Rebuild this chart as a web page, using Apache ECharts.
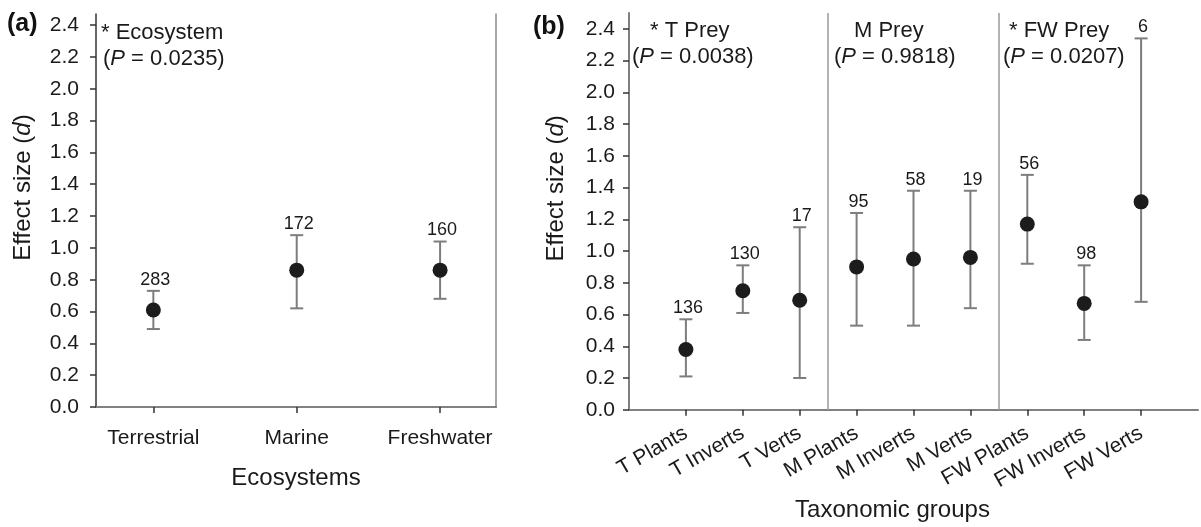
<!DOCTYPE html>
<html>
<head>
<meta charset="utf-8">
<script src="https://cdn.jsdelivr.net/npm/echarts@6/dist/echarts.min.js"></script>
<style>
html,body{margin:0;padding:0;background:#fff;}
#c{width:1201px;height:527px;}
</style>
</head>
<body>
<div id="c"></div>
<script>
// ---- Data ----
const yTicks = [0, 0.2, 0.4, 0.6, 0.8, 1.0, 1.2, 1.4, 1.6, 1.8, 2.0, 2.2, 2.4];

const ecoCats = ['Terrestrial', 'Marine', 'Freshwater'];
const ecoMean = [0.61, 0.86, 0.86];
const ecoLow  = [0.49, 0.62, 0.68];
const ecoHigh = [0.73, 1.08, 1.04];
const ecoN    = [283, 172, 160];

const taxCats = ['T Plants', 'T Inverts', 'T Verts', 'M Plants', 'M Inverts', 'M Verts', 'FW Plants', 'FW Inverts', 'FW Verts'];
const taxMean = [0.38, 0.75, 0.69, 0.90, 0.95, 0.96, 1.17, 0.67, 1.31];
const taxLow  = [0.21, 0.61, 0.20, 0.53, 0.53, 0.64, 0.92, 0.44, 0.68];
const taxHigh = [0.57, 0.91, 1.15, 1.24, 1.38, 1.38, 1.48, 0.91, 2.34];
const taxN    = [136, 130, 17, 95, 58, 19, 56, 98, 6];
const taxDividers = [3.5, 6.5];

// ---- Chart ----
const FONT = '"Liberation Sans", Arial, Helvetica, sans-serif';
const chart = echarts.init(document.getElementById('c'), null, {renderer: 'canvas'});

function pos(arr) { return arr.map((_, i) => i + 1); }

function errRender(params, api) {
  const x = api.value(0), lo = api.value(1), hi = api.value(2), n = api.value(3);
  const a = api.coord([x, lo]);
  const b = api.coord([x, hi]);
  const hw = 6.5;
  const st = {stroke: '#7d7d7d', lineWidth: 2};
  return {
    type: 'group',
    children: [
      {type: 'line', shape: {x1: a[0], y1: a[1], x2: b[0], y2: b[1]}, style: st},
      {type: 'line', shape: {x1: a[0] - hw, y1: a[1], x2: a[0] + hw, y2: a[1]}, style: st},
      {type: 'line', shape: {x1: b[0] - hw, y1: b[1], x2: b[0] + hw, y2: b[1]}, style: st},
      {type: 'text', x: b[0] + 2, y: b[1] - 2,
       style: {text: String(n), textAlign: 'center', textVerticalAlign: 'bottom',
               font: '18px ' + FONT, fill: '#1a1a1a'}}
    ]
  };
}

const richY = {
  n: {fontSize: 24, fontFamily: FONT, color: '#1a1a1a'},
  i: {fontSize: 24, fontFamily: FONT, color: '#1a1a1a', fontStyle: 'italic'}
};

function yAxisMain(grid, max, margin) {
  return {
    type: 'value', gridIndex: grid, min: 0, max: max,
    name: '{n|Effect size (}{i|d}{n|)}',
    nameLocation: 'middle', nameGap: 61, nameRotate: 90,
    nameTextStyle: {rich: richY, padding: [0, 0, 0, 46]},
    axisLine: {show: true, lineStyle: {color: '#333', width: 1.5}},
    axisTick: {show: true, inside: false, length: 6, customValues: yTicks, lineStyle: {color: '#333', width: 1.5}},
    axisLabel: {customValues: yTicks, formatter: v => v.toFixed(1), fontSize: 21, fontFamily: FONT, color: '#1a1a1a', margin: margin},
    splitLine: {show: false}
  };
}
function yAxisBorder(grid, max) {
  return {
    type: 'value', gridIndex: grid, min: 0, max: max, position: 'right',
    axisLine: {show: true, lineStyle: {color: '#8a8a8a', width: 1.5}},
    axisTick: {show: false}, axisLabel: {show: false}, splitLine: {show: false}
  };
}
function xAxisBorderTop(grid, min, max) {
  return {
    type: 'value', gridIndex: grid, min: min, max: max, position: 'top',
    axisLine: {show: true, lineStyle: {color: '#8a8a8a', width: 1.5}},
    axisTick: {show: false}, axisLabel: {show: false}, splitLine: {show: false}
  };
}

const italicRich = {i: {fontStyle: 'italic', fontSize: 22, fontFamily: FONT, fill: '#1a1a1a'}};
const annFont = '22px ' + FONT;

const option = {
  animation: false,
  backgroundColor: '#fff',
  textStyle: {fontFamily: FONT},
  grid: [
    {left: 96, top: 14, width: 400, height: 393},
    {left: 629, top: 13, width: 569, height: 397.7}
  ],
  xAxis: [
    {
      type: 'value', gridIndex: 0, min: 0.6, max: 3.39, position: 'bottom', offset: 4,
      name: 'Ecosystems', nameLocation: 'middle', nameGap: 55,
      nameTextStyle: {fontSize: 24, fontFamily: FONT, color: '#1a1a1a'},
      axisLine: {show: true, lineStyle: {color: '#333', width: 1.5}},
      axisTick: {show: true, length: 6, customValues: pos(ecoCats), lineStyle: {color: '#333', width: 1.5}},
      axisLabel: {customValues: pos(ecoCats), formatter: v => ecoCats[Math.round(v) - 1] || '',
                  fontSize: 21, fontFamily: FONT, color: '#1a1a1a', margin: 17},
      splitLine: {show: false}
    },
    xAxisBorderTop(0, 0.6, 3.39),
    {
      type: 'value', gridIndex: 1, min: 0, max: 10, position: 'bottom',
      name: 'Taxonomic groups', nameLocation: 'middle', nameGap: 88,
      nameTextStyle: {fontSize: 24, fontFamily: FONT, color: '#1a1a1a', padding: [0, 42, 0, 0]},
      axisLine: {show: true, lineStyle: {color: '#333', width: 1.5}},
      axisTick: {show: true, length: 6, customValues: pos(taxCats), lineStyle: {color: '#333', width: 1.5}},
      axisLabel: {customValues: pos(taxCats), formatter: v => taxCats[Math.round(v) - 1] || '',
                  rotate: 30, fontSize: 21, fontFamily: FONT, color: '#1a1a1a', margin: 22},
      splitLine: {show: false}
    },
    xAxisBorderTop(1, 0, 10)
  ],
  yAxis: [
    yAxisMain(0, 2.47, 17),
    yAxisBorder(0, 2.47),
    yAxisMain(1, 2.5, 14),
    yAxisBorder(1, 2.5)
  ],
  series: [
    {
      type: 'custom', xAxisIndex: 0, yAxisIndex: 0, renderItem: errRender, z: 2,
      data: ecoCats.map((c, i) => [i + 1, ecoLow[i], ecoHigh[i], ecoN[i]])
    },
    {
      type: 'scatter', xAxisIndex: 0, yAxisIndex: 0, symbolSize: 15, z: 3,
      itemStyle: {color: '#1c1c1c', opacity: 1},
      data: ecoCats.map((c, i) => [i + 1, ecoMean[i]])
    },
    {
      type: 'custom', xAxisIndex: 2, yAxisIndex: 2, renderItem: errRender, z: 2,
      data: taxCats.map((c, i) => [i + 1, taxLow[i], taxHigh[i], taxN[i]])
    },
    {
      type: 'scatter', xAxisIndex: 2, yAxisIndex: 2, symbolSize: 15, z: 3,
      itemStyle: {color: '#1c1c1c', opacity: 1},
      data: taxCats.map((c, i) => [i + 1, taxMean[i]]),
      markLine: {
        silent: true, symbol: 'none', animation: false,
        label: {show: false},
        lineStyle: {color: '#999', type: 'solid', width: 1.5},
        data: taxDividers.map(d => ({xAxis: d}))
      }
    }
  ],
  graphic: [
    {type: 'text', left: 7, top: 12, style: {text: '(a)', font: 'bold 25px ' + FONT, fill: '#111'}},
    {type: 'text', left: 533, top: 15, style: {text: '(b)', font: 'bold 25px ' + FONT, fill: '#111'}},
    {type: 'text', left: 101, top: 22, style: {text: '* Ecosystem', font: annFont, fill: '#1a1a1a'}},
    {type: 'text', left: 103, top: 48, style: {text: '({i|P} = 0.0235)', font: annFont, fill: '#1a1a1a', rich: italicRich}},
    {type: 'text', left: 650, top: 20, style: {text: '* T Prey', font: annFont, fill: '#1a1a1a'}},
    {type: 'text', left: 632, top: 46, style: {text: '({i|P} = 0.0038)', font: annFont, fill: '#1a1a1a', rich: italicRich}},
    {type: 'text', left: 854, top: 20, style: {text: 'M Prey', font: annFont, fill: '#1a1a1a'}},
    {type: 'text', left: 834, top: 46, style: {text: '({i|P} = 0.9818)', font: annFont, fill: '#1a1a1a', rich: italicRich}},
    {type: 'text', left: 1009, top: 20, style: {text: '* FW Prey', font: annFont, fill: '#1a1a1a'}},
    {type: 'text', left: 1003, top: 46, style: {text: '({i|P} = 0.0207)', font: annFont, fill: '#1a1a1a', rich: italicRich}}
  ]
};
chart.setOption(option);
</script>
</body>
</html>
